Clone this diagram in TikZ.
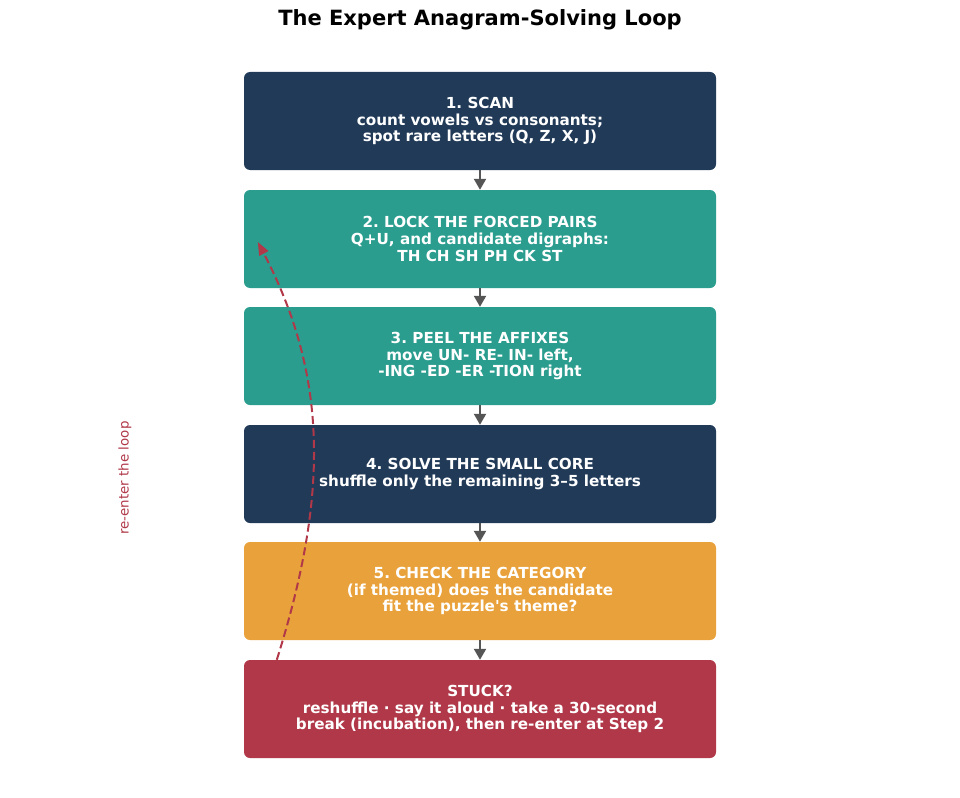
\documentclass[tikz,border=0pt]{standalone}
\usepackage{fontspec}
\setmainfont{DejaVu Sans}
\usepackage{xcolor}
\usetikzlibrary{arrows.meta}
\frenchspacing

\definecolor{navy}{HTML}{213A58}
\definecolor{teal}{HTML}{2A9D8F}
\definecolor{amber}{HTML}{E9A23B}
\definecolor{crimson}{HTML}{B03848}
\definecolor{arrowgray}{HTML}{555555}

\begin{document}
\begin{tikzpicture}[x=1pt,y=-1pt,
    stepbox/.style={rounded corners=6pt, minimum width=472pt, minimum height=98pt,
        inner sep=0pt, align=center, text=white,
        font=\bfseries\fontsize{15.2}{16.6}\selectfont},
    flowarrow/.style={draw=arrowgray, line width=2.2pt,
        -{Triangle[length=11pt,width=12pt]}, fill=arrowgray},
    loopline/.style={draw=crimson, line width=2pt, dash pattern=on 8pt off 4pt,
        -{Triangle[length=13pt,width=10pt]}}]
\useasboundingbox (0,0) rectangle (960,797);

    \node[font=\bfseries\fontsize{21}{23}\selectfont] (title) at (480,20) {The Expert Anagram-Solving Loop};

    \node[stepbox, fill=navy] (s1) at (480,121) {1. SCAN\\count vowels vs consonants;\\spot rare letters (Q, Z, X, J)};
    \node[stepbox, fill=teal] (s2) at (480,239) {2. LOCK THE FORCED PAIRS\\Q+U, and candidate digraphs:\\TH CH SH PH CK ST};
    \node[stepbox, fill=teal] (s3) at (480,356) {3. PEEL THE AFFIXES\\move UN- RE- IN- left,\\-ING -ED -ER -TION right};
    \node[stepbox, fill=navy] (s4) at (480,474) {4. SOLVE THE SMALL CORE\\shuffle only the remaining 3–5 letters};
    \node[stepbox, fill=amber] (s5) at (480,591) {5. CHECK THE CATEGORY\\(if themed) does the candidate\\fit the puzzle\textquotesingle s theme?};
    \node[stepbox, fill=crimson] (stuck) at (480,709) {STUCK?\\reshuffle · say it aloud · take a 30-second\\break (incubation), then re-enter at Step 2};

    % draw the arrows
    \draw[flowarrow] (s1) -- (s2);
    \draw[flowarrow] (s2) -- (s3);
    \draw[flowarrow] (s3) -- (s4);
    \draw[flowarrow] (s4) -- (s5);
    \draw[flowarrow] (s5) -- (stuck);

    % loop back to step 2
    \coordinate (loopstart) at ([xshift=33pt]stuck.north west);
    \coordinate (loopend) at ([xshift=14pt,yshift=-3pt]s2.west);
    \draw[loopline] (loopstart) .. controls (327,500) and (330,380) .. (loopend);
    \node[rotate=90, text=crimson, font=\fontsize{13.4}{15}\selectfont] (looplabel) at (125,478) {re-enter the loop};

\end{tikzpicture}
\end{document}
